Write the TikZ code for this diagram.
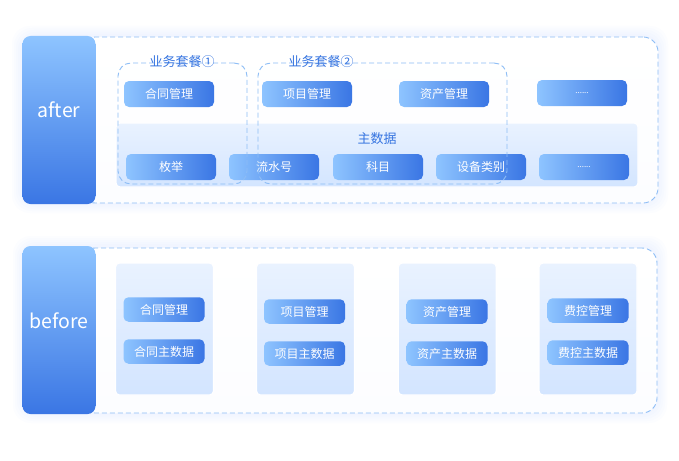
\documentclass[tikz,border=0pt]{standalone}
\usepackage{fontspec}
\setmainfont{Noto Sans CJK SC}
\definecolor{btnL}{HTML}{8EC4FF}
\definecolor{btnR}{HTML}{3A76E4}
\definecolor{dashc}{HTML}{8DBDF6}
\definecolor{panT}{HTML}{E9F2FF}
\definecolor{panB}{HTML}{D3E5FF}
\definecolor{txtB}{HTML}{3473E0}
\definecolor{glowc}{HTML}{DCE6FF}
\begin{document}
\begin{tikzpicture}[x=1pt,y=-1pt,
  btn/.style={rounded corners=5pt, left color=btnL, right color=btnR, text=white,
    minimum width=90pt, minimum height=26pt, inner sep=0pt, font=\fontsize{12}{13}\selectfont},
  sbtn/.style={btn, minimum width=81pt, minimum height=24.5pt},
  side/.style={rounded corners=8pt, top color=btnL, bottom color=btnR,
    minimum width=73pt, minimum height=168pt, inner sep=0pt},
  sidetxt/.style={text=white, inner sep=0pt, font=\fontsize{19.5}{21}\selectfont},
  outer/.style={draw=dashc, dash pattern=on 5pt off 3pt, line width=0.9pt, rounded corners=15pt,
    top color=white, bottom color=white!92!glowc, inner sep=0pt},
  pkg/.style={draw=dashc, dash pattern=on 5pt off 3pt, line width=0.9pt, rounded corners=13pt, inner sep=0pt},
  panel/.style={draw=white, line width=1.2pt, rounded corners=4pt, top color=panT, bottom color=panB, inner sep=0pt},
  lbl/.style={text=txtB, font=\fontsize{13}{14}\selectfont, inner sep=1pt}
]
\useasboundingbox (0,0) rectangle (679,460);
\fill[white] (0,0) rectangle (679,460);
% glows
\foreach \d in {2,4,6,8,10}{
  \fill[glowc, opacity=0.08, rounded corners=18pt] (22-\d,36-\d) rectangle (658+\d,203+\d);
  \fill[glowc, opacity=0.08, rounded corners=18pt] (23-\d,246-\d) rectangle (657+\d,413+\d);
}
% ===== after =====
\node[outer, minimum width=578pt, minimum height=166pt] (outA) at (369,120) {};
\node[side] (after) at (59,120) {};
\node[sidetxt] (afterT) at (59,110) {after};
\node[panel, minimum width=522pt, minimum height=64pt] (md) at (377,155) {};
\node[lbl] (mdl) at (377,139) {主数据};
\node[btn] (a1) at (169,94) {合同管理};
\node[btn] (a2) at (307,94) {项目管理};
\node[btn] (a3) at (444,94) {资产管理};
\node[btn, font=\fontsize{8}{9}\selectfont] (a4) at (582,93) {......};
\node[btn] (b1) at (171,167) {枚举};
\node[btn] (b2) at (274,167) {流水号};
\node[btn] (b3) at (378,167) {科目};
\node[btn] (b4) at (481,167) {设备类别};
\node[btn, font=\fontsize{8}{9}\selectfont] (b5) at (584,167) {......};
\node[pkg, minimum width=129pt, minimum height=121pt] (p1) at (182.5,123.5) {};
\node[pkg, minimum width=249pt, minimum height=121pt] (p2) at (382.5,123.5) {};
\node[lbl] (p1l) at (182,62) {业务套餐①};
\node[lbl] (p2l) at (321,62) {业务套餐②};
% ===== before =====
\node[outer, minimum width=577pt, minimum height=165pt] (outB) at (368.5,330.5) {};
\node[side] (before) at (59,330) {};
\node[sidetxt] (beforeT) at (59,321) {before};
\node[panel, minimum width=98pt, minimum height=132pt] (c1) at (164.5,329) {};
\node[panel, minimum width=98pt, minimum height=132pt] (c2) at (305.5,329) {};
\node[panel, minimum width=98pt, minimum height=132pt] (c3) at (447.3,329) {};
\node[panel, minimum width=98pt, minimum height=132pt] (c4) at (588,329) {};
\node[sbtn] (d1) at (164,309.5) {合同管理};
\node[sbtn] (e1) at (164,351.5) {合同主数据};
\node[sbtn] (d2) at (304.5,311.5) {项目管理};
\node[sbtn] (e2) at (304.5,353.5) {项目主数据};
\node[sbtn] (d3) at (447,311.5) {资产管理};
\node[sbtn] (e3) at (447,353.5) {资产主数据};
\node[sbtn] (d4) at (588,310.5) {费控管理};
\node[sbtn] (e4) at (588,352.5) {费控主数据};
\end{tikzpicture}
\end{document}
